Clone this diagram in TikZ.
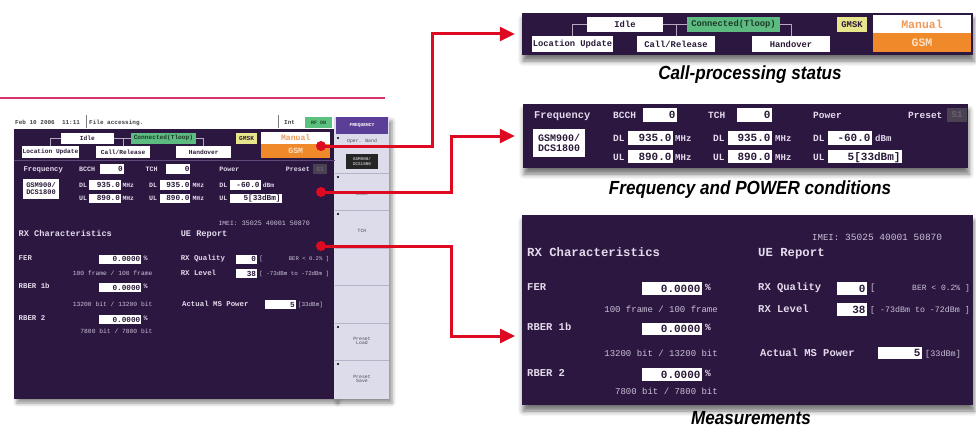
\documentclass[tikz,border=0pt]{standalone}
\usepackage{fontspec}
\usepackage{graphicx}
\usetikzlibrary{arrows.meta,shadows.blur}
\newfontfamily\scrfont{Liberation Mono}
\newfontfamily\capfont{Liberation Sans}
\newcommand\fsz[1]{\fontsize{#1}{#1}\selectfont}

\definecolor{scrbg}{HTML}{2B1740}
\definecolor{labc}{HTML}{E4DAEC}
\definecolor{subc}{HTML}{CBC1D8}
\definecolor{boxtxt}{HTML}{2A1A38}
\definecolor{connc}{HTML}{5DBB82}
\definecolor{conntxt}{HTML}{1C3A26}
\definecolor{gmskc}{HTML}{E8E68C}
\definecolor{orangec}{HTML}{F0892A}
\definecolor{gsmtxt}{HTML}{FCE2C4}
\definecolor{manualtxt}{HTML}{F09A5A}
\definecolor{treec}{HTML}{B4A8C0}
\definecolor{callred}{HTML}{DD0A22}
\definecolor{rulepink}{HTML}{D8336C}
\definecolor{sidec}{HTML}{DCDCEA}
\definecolor{sidehead}{HTML}{5A3E98}
\definecolor{sidesepc}{HTML}{B4B4C8}
\definecolor{sidetxt}{HTML}{4A4A5A}
\definecolor{presetc}{HTML}{4A4252}
\definecolor{presettxt}{HTML}{6C6274}
\definecolor{rfgreen}{HTML}{5CC07E}
\definecolor{rftxt}{HTML}{1C4A2A}
\definecolor{stattxt}{HTML}{404048}
\definecolor{lsepc}{HTML}{5E4A7A}

\tikzset{
  lab/.style={text=labc, font=\scrfont\bfseries\fsz{#1}, anchor=base west, inner sep=0pt},
  lab/.default=10,
  smalltxt/.style={text=subc, font=\scrfont\fsz{#1}, inner sep=0pt},
  smalltxt/.default=9,
  cfield/.style={rectangle, fill=white, draw=none, inner sep=0pt, text=boxtxt,
    font=\scrfont\bfseries\fsz{8.8}},
  numtxt/.style={text=boxtxt, inner sep=0pt, font=\scrfont\bfseries\fsz{11}},
  treeline/.style={draw=treec, line width=0.8pt},
  panelbg/.style={fill=scrbg, blur shadow={shadow xshift=1pt, shadow yshift=-6pt,
    shadow blur radius=5pt, shadow opacity=55}},
  screenbg/.style={fill=scrbg, blur shadow={shadow xshift=3pt, shadow yshift=-4pt,
    shadow blur radius=4pt, shadow opacity=45}},
  sidebg/.style={fill=sidec, blur shadow={shadow xshift=3pt, shadow yshift=-4pt,
    shadow blur radius=4pt, shadow opacity=45}},
  sidelab/.style={text=sidetxt, font=\scrfont\fsz{4.8}, align=center, inner sep=0pt},
  sidesep/.style={draw=sidesepc, line width=0.7pt},
  stat/.style={text=stattxt, font=\scrfont\bfseries\fsz{6}, anchor=base west, inner sep=0pt},
  statsep/.style={draw=stattxt!70, line width=0.5pt},
  redarrow/.style={draw=callred, line width=3pt, -{Triangle[length=15pt,width=14pt]}},
  reddot/.style={circle, fill=callred, inner sep=0pt, minimum size=10pt},
  captxt/.style={font=\capfont\bfseries\itshape\fsz{19}, text=black, inner sep=0pt},
}

% box with centred text: [style]{name}{x1}{y1}{x2}{y2}{text}
\newcommand\labbox[7][]{%
  \node[cfield,minimum width={(#5-#3)*1pt},minimum height={(#6-#4)*1pt},#1]
    (#2) at ({(#3+#5)/2},{(#4+#6)/2}) {#7};}
% white value field with right-aligned number
\newcommand\numbox[7][]{%
  \node[cfield,minimum width={(#5-#3)*1pt},minimum height={(#6-#4)*1pt},#1]
    (#2) at ({(#3+#5)/2},{(#4+#6)/2}) {};
  \node[numtxt, anchor=base east] (#2-v) at ([xshift=-1.5pt,yshift=-3.8pt]#2.east) {#7};}
% condensed caption text
\newcommand\captionline[1]{\scalebox{0.9}[1]{#1}}

% call-processing state row
\newcommand\callstate[1]{%
  \labbox{#1idle}{587}{17}{663}{32}{Idle}
  \labbox[fill=connc, text=conntxt]{#1conn}{687}{17}{780}{32}{Connected(Tloop)}
  \labbox[fill=gmskc]{#1gmsk}{837}{17}{867}{32}{GMSK}
  \labbox[text=manualtxt, font=\scrfont\bfseries\fsz{11.5}]{#1manual}{873}{15}{971}{33}{Manual}
  \labbox[fill=orangec, text=gsmtxt, font=\scrfont\bfseries\fsz{11.5}]{#1gsm}{873}{33}{971}{52}{GSM}
  \labbox{#1locup}{532}{36}{613}{52}{Location Update}
  \labbox{#1callrel}{637}{36}{715}{52}{Call/Release}
  \labbox{#1hand}{752}{36}{830}{52}{Handover}
  \draw[treeline] (#1idle.west) -| (#1locup.north);
  \draw[treeline] (#1idle.east) -- (#1conn.west);
  \draw[treeline] (#1callrel.north) |- (#1conn.west);
  \draw[treeline] (#1conn.east) -| (#1hand.north);
}

% frequency and power settings
\newcommand\freqcond[1]{%
  \node[lab=10.4] (#1freq) at (534,118.5) {Frequency};
  \node[lab=9.5] (#1bcchl) at (613,118.5) {BCCH};
  \numbox{#1bcch}{643}{108}{677}{122}{0}
  \node[lab=9.5] (#1tchl) at (708,118.5) {TCH};
  \numbox{#1tch}{737}{108}{772}{122}{0}
  \node[lab=9.5] (#1powl) at (813,118.5) {Power};
  \node[lab=9.5] (#1prel) at (908,118.5) {Preset};
  \labbox[fill=presetc, text=presettxt, font=\scrfont\bfseries\fsz{9}]{#1pre}{947}{108}{967}{122}{S1}
  \labbox[align=left, font=\scrfont\bfseries\fsz{10}]{#1band}{533}{129}{585}{157}{GSM900/\\DCS1800}
  \node[lab=9.5] (#1dla) at (613,141.5) {DL};
  \numbox{#1bdl}{628}{131}{673}{145}{935.0}
  \node[lab=9] (#1bdlu) at (675,141.5) {MHz};
  \node[lab=9.5] (#1dlb) at (713,141.5) {DL};
  \numbox{#1tdl}{728}{131}{772}{145}{935.0}
  \node[lab=9] (#1tdlu) at (775,141.5) {MHz};
  \node[lab=9.5] (#1dlc) at (813,141.5) {DL};
  \numbox{#1pdl}{828}{131}{872}{145}{-60.0}
  \node[lab=9] (#1pdlu) at (875,141.5) {dBm};
  \node[lab=9.5] (#1ula) at (613,160) {UL};
  \numbox{#1bul}{628}{150}{673}{163}{890.0}
  \node[lab=9] (#1bulu) at (675,160) {MHz};
  \node[lab=9.5] (#1ulb) at (713,160) {UL};
  \numbox{#1tul}{728}{150}{772}{163}{890.0}
  \node[lab=9] (#1tulu) at (775,160) {MHz};
  \node[lab=9.5] (#1ulc) at (813,160) {UL};
  \numbox{#1pul}{828}{150}{902}{163}{5[33dBm]}
}

% RX measurement results and UE report
\newcommand\measure[1]{%
  \node[smalltxt=9, anchor=base west] (#1imeil) at (812,240) {IMEI:};
  \node[smalltxt=9.5, anchor=base west] (#1imei) at (845,240) {35025 40001 50870};
  \node[lab=12.3] (#1rxc) at (527,256) {RX Characteristics};
  \node[lab=12.3] (#1uer) at (758,256) {UE Report};
  \node[lab=10.5] (#1fer) at (527,290.5) {FER};
  \numbox{#1ferv}{642}{282}{702}{295}{0.0000}
  \node[lab=9.5] (#1ferp) at (705,290.5) {\%};
  \node[smalltxt=9, anchor=base east] (#1fern) at (718,312) {100 frame / 100 frame};
  \node[lab=10.5] (#1rba) at (527,330) {RBER 1b};
  \numbox{#1rbav}{642}{323}{702}{335}{0.0000}
  \node[lab=9.5] (#1rbap) at (705,330) {\%};
  \node[smalltxt=9, anchor=base east] (#1rban) at (718,356) {13200 bit / 13200 bit};
  \node[lab=10.5] (#1rbb) at (527,376.5) {RBER 2};
  \numbox{#1rbbv}{642}{368}{702}{381}{0.0000}
  \node[lab=9.5] (#1rbbp) at (705,376.5) {\%};
  \node[smalltxt=9, anchor=base east] (#1rbbn) at (718,394) {7800 bit / 7800 bit};
  \node[lab=10.5] (#1rxq) at (758,290.5) {RX Quality};
  \numbox{#1rxqv}{837}{282}{867}{295}{0}
  \node[smalltxt=9, anchor=base west] (#1rxqo) at (870,290.5) {[};
  \node[smalltxt=8, anchor=base east] (#1rxqr) at (970,290.5) {BER < 0.2\% ]};
  \node[lab=10.5] (#1rxl) at (758,312) {RX Level};
  \numbox{#1rxlv}{837}{303}{867}{316}{38}
  \node[smalltxt=8.3, anchor=base west] (#1rxlr) at (870,312) {[ -73dBm to -72dBm ]};
  \node[lab=10.5] (#1ams) at (760,356) {Actual MS Power};
  \numbox{#1amsv}{878}{347}{922}{359}{5}
  \node[smalltxt=8.5, anchor=base west] (#1amsu) at (925,356) {[33dBm]};
}

\begin{document}
\begin{tikzpicture}[x=1pt,y=-1pt]
\useasboundingbox (0,0) rectangle (976,436);

% rule above the instrument screen
\draw[draw=rulepink, line width=1.3pt] (0,98) -- (385,98);

% ---------- instrument screen ----------
\labbox[screenbg]{Lbg}{14}{129}{335}{399}{}
\labbox[sidebg]{Lside}{334}{117}{389}{399}{}
\labbox[fill=sidehead, text=white, font=\scrfont\bfseries\fsz{4.6}]{shead}{336}{117}{388}{134}{FREQUENCY}
\foreach \yy in {173,210,248,285,323,360}
  \draw[sidesep] (334.5,\yy) -- (388.5,\yy);
\foreach \yy in {134,173,210,323,360}
  \fill[black!80] (337,\yy+3) rectangle +(2,2);
\node[sidelab] (sb1) at (362,141) {Oper. Band};
\labbox[fill=black!85, text=white!85, align=center, font=\scrfont\fsz{4.2}]{sb1box}{346}{154}{378}{169}{GSM900/\\DCS1800}
\node[sidelab] (sb2) at (362,194) {BCCH};
\node[sidelab] (sb3) at (362,231) {TCH};
\node[sidelab] (sb6) at (362,341) {Preset\\Load};
\node[sidelab] (sb7) at (362,379) {Preset\\Save};

% status line
\node[stat] (sdate) at (15,124.5) {Feb 10 2006\ \ 11:11};
\draw[statsep] (86,115) -- (86,128);
\node[stat] (sfile) at (89,124.5) {File accessing.};
\draw[statsep] (278,115) -- (278,128);
\node[stat] (sint) at (284,124.5) {Int};
\labbox[fill=rfgreen, text=rftxt, font=\scrfont\bfseries\fsz{5}]{srf}{305}{117}{332}{128}{RF ON}

\draw[draw=lsepc, line width=0.8pt] (14,160) -- (335,160);

\begin{scope}[shift={(-351.2,121.1)}, scale=0.7016, transform shape]
  \callstate{L}
\end{scope}
\begin{scope}[shift={(-351.2,88.5)}, scale=0.7016, transform shape]
  \freqcond{L}
\end{scope}
\begin{scope}[shift={(-351.2,56.7)}, scale=0.7016, transform shape]
  \measure{L}
\end{scope}

% ---------- enlarged views ----------
\labbox[panelbg]{P1}{522}{13}{973}{55}{}
\callstate{R}
\node[captxt] (cap1) at (750,75) {\captionline{Call-processing status}};

\labbox[panelbg]{P2}{523}{104}{968}{168}{}
\freqcond{R}
\node[captxt] (cap2) at (750,190) {\captionline{Frequency and POWER conditions}};

\labbox[panelbg]{P3}{522}{215}{973}{405}{}
\measure{R}
\node[captxt] (cap3) at (751,418) {\captionline{Measurements}};

% ---------- callouts ----------
\node[reddot] (d1) at (321,146) {};
\node[reddot] (d2) at (321,192) {};
\node[reddot] (d3) at (321,246) {};
\coordinate (k1) at (432,34);
\coordinate (k2) at (451,136);
\coordinate (k3) at (451,336);
\coordinate (a3) at (522,336);
\draw[redarrow, shorten >=7pt] (d1.center) -| (k1) -- (P1.west);
\draw[redarrow, shorten >=8pt] (d2.center) -| (k2) -- (P2.west);
\draw[redarrow, shorten >=7pt] (d3.center) -| (k3) -- (a3);
\end{tikzpicture}
\end{document}
